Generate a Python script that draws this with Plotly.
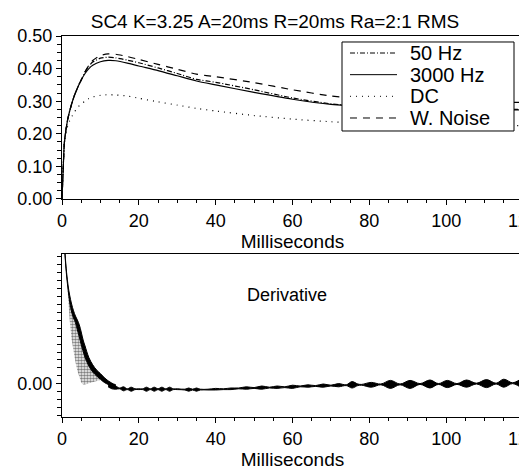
import plotly.graph_objects as go

# ---- top panel: RMS envelopes (milliseconds -> level) ----
ms = [0, 0.3, 0.6, 1, 1.5, 2, 3, 4, 5, 6, 7, 8, 10, 12, 14, 17, 20, 25, 30,
      35, 40, 50, 60, 70, 80, 90, 100, 110, 120]
hz50 = [0, 0.09, 0.17, 0.21, 0.245, 0.27, 0.31, 0.34, 0.365, 0.39, 0.408,
        0.42, 0.432, 0.435, 0.433, 0.426, 0.418, 0.402, 0.385, 0.367, 0.358,
        0.335, 0.31, 0.292, 0.283, 0.279, 0.277, 0.276, 0.275]
hz3000 = [0, 0.09, 0.17, 0.21, 0.245, 0.27, 0.31, 0.34, 0.365, 0.385, 0.40,
          0.41, 0.421, 0.425, 0.424, 0.417, 0.408, 0.394, 0.378, 0.362, 0.35,
          0.327, 0.306, 0.29, 0.282, 0.277, 0.275, 0.274, 0.273]
dc = [0, 0.09, 0.17, 0.20, 0.225, 0.24, 0.262, 0.28, 0.292, 0.30, 0.308,
      0.313, 0.318, 0.32, 0.319, 0.316, 0.309, 0.298, 0.288, 0.278, 0.27,
      0.256, 0.245, 0.237, 0.232, 0.229, 0.227, 0.226, 0.225]
wnoise = [0, 0.09, 0.17, 0.21, 0.245, 0.27, 0.31, 0.34, 0.365, 0.39, 0.41,
          0.425, 0.44, 0.445, 0.444, 0.437, 0.428, 0.413, 0.398, 0.383, 0.375,
          0.357, 0.335, 0.316, 0.305, 0.30, 0.298, 0.297, 0.296]
names = ["50 Hz", "3000 Hz", "DC", "W. Noise"]

# ---- bottom panel: derivative ----
band_ms = [0.6, 0.8, 1.2, 1.6, 2, 2.5, 3, 3.5, 4, 4.5, 5, 5.5, 6, 7, 8, 9,
           10, 11, 12, 13, 14]
band_hi = [0.036, 0.0325, 0.0278, 0.0245, 0.0222, 0.02, 0.0183, 0.017,
           0.016, 0.0148, 0.013, 0.011, 0.0095, 0.0066, 0.0048, 0.0035,
           0.0026, 0.0016, 0.0008, 0.0002, -0.0002]
band_lo = [0.0355, 0.032, 0.027, 0.0235, 0.0205, 0.018, 0.0165, 0.0153,
           0.0135, 0.0118, 0.0098, 0.0082, 0.0066, 0.0045, 0.003, 0.002,
           0.0012, 0.0004, -0.0001, -0.0004, -0.0008]
stip_ms = [1.2, 1.6, 2, 2.5, 3, 3.5, 4, 4.5, 5, 5.5, 6, 7, 8, 9, 10, 11]
stip_top = [0.027, 0.0235, 0.0205, 0.018, 0.0165, 0.0153, 0.0135, 0.0118,
            0.0098, 0.0082, 0.0066, 0.0045, 0.003, 0.002, 0.0012, 0.0004]
stip_bot = [0.027, 0.0205, 0.016, 0.0112, 0.0078, 0.0055, 0.0033, 0.0018,
            0.0004, -0.0001, -0.0001, 0.0002, 0.0005, 0.0008, 0.001, 0.0004]
tail_ms = [12, 13, 14, 15, 16, 17, 18, 19, 20, 21, 22, 23, 24, 25, 26, 27,
           28, 29, 30, 32, 33, 34, 35, 36, 38, 40, 42, 44, 46, 48, 50, 52,
           54, 56, 58, 60, 62, 64, 66, 68, 70, 72, 74, 75.5, 77, 78, 80.5, 83,
           85.5, 88, 90.6, 93.2, 95.8, 98, 100.3, 102.8, 105.3, 107.9, 110.5,
           113, 115, 117.3, 119.6, 120]
tail_mid = [-0.0002, -0.0006, -0.0009, -0.0011, -0.0012, -0.0013, -0.0013,
            -0.0013, -0.0013, -0.0013, -0.0013, -0.0013, -0.0013, -0.0013,
            -0.0013, -0.0013, -0.0013, -0.0013, -0.0013, -0.0014, -0.0014,
            -0.0014, -0.0014, -0.0014, -0.0014, -0.0013, -0.0013, -0.0012,
            -0.0011, -0.001, -0.001, -0.0009, -0.0009, -0.0008, -0.0008,
            -0.0007, -0.0006, -0.0005, -0.0005, -0.0004, -0.0004, -0.0003,
            -0.0003, -0.0002, -0.0002, -0.0002, -0.0002, -0.0001, -0.0001,
            -0.0001, -0.0001, 0.0, 0.0, 0.0, 0.0, 0.0, 0.0001, 0.0001, 0.0001,
            0.0001, 0.0002, 0.0002, 0.0002, 0.0002]
tail_amp = [0.0005, 0.0006, 0.0004, 0.0001, 0.0005, 0.0001, 0.0005, 0.0001,
            0.0001, 0.0001, 0.0005, 0.0001, 0.0005, 0.0001, 0.0005, 0.0001,
            0.0005, 0.0001, 0.0001, 0.0001, 0.0004, 0.0001, 0.0004, 0.0001,
            0.0001, 0.0002, 0.0001, 0.0002, 0.0001, 0.0003, 0.0001, 0.0004,
            0.0001, 0.0003, 0.0001, 0.0004, 0.0001, 0.0003, 0.0001, 0.0004,
            0.0001, 0.0004, 0.0001, 0.0008, 0.0002, 0.0001, 0.0006, 0.0001,
            0.001, 0.0001, 0.001, 0.0001, 0.001, 0.0001, 0.0009, 0.0001,
            0.0009, 0.0001, 0.001, 0.0001, 0.001, 0.0001, 0.001, 0.0009]

FONT = "Liberation Sans, Arial, Helvetica, sans-serif"

fig = go.Figure()

dashes = ["5px,2px,1px,2px", "solid", "1px,5px", "7px,6px"]
for name, vals, dash in zip(names, [hz50, hz3000, dc, wnoise], dashes):
    fig.add_trace(go.Scatter(x=ms, y=vals, name=name, mode="lines",
                             line=dict(color="black", width=1.2, dash=dash,
                                       shape="spline", smoothing=0.6),
                             showlegend=False, xaxis="x", yaxis="y"))

# stippled region (fast oscillation of one curve)
fig.add_trace(go.Scatter(x=stip_ms, y=stip_top, mode="lines",
                         line=dict(width=0), showlegend=False,
                         xaxis="x2", yaxis="y2"))
fig.add_trace(go.Scatter(x=stip_ms, y=stip_bot, mode="lines",
                         line=dict(width=0), fill="tonexty",
                         fillcolor="white",
                         fillpattern=dict(shape=".", fgcolor="black",
                                          bgcolor="white", size=3,
                                          solidity=0.6),
                         showlegend=False, xaxis="x2", yaxis="y2"))
# main band
fig.add_trace(go.Scatter(x=band_ms, y=band_lo, mode="lines",
                         line=dict(color="black", width=1, shape="spline"),
                         showlegend=False, xaxis="x2", yaxis="y2"))
fig.add_trace(go.Scatter(x=band_ms, y=band_hi, mode="lines",
                         line=dict(color="black", width=1, shape="spline"),
                         fill="tonexty", fillcolor="black",
                         showlegend=False, xaxis="x2", yaxis="y2"))
# ripple
tail_lo = [m - a for m, a in zip(tail_mid, tail_amp)]
tail_hi = [m + a for m, a in zip(tail_mid, tail_amp)]
fig.add_trace(go.Scatter(x=tail_ms, y=tail_lo, mode="lines",
                         line=dict(color="black", width=1, shape="spline"),
                         showlegend=False, xaxis="x2", yaxis="y2"))
fig.add_trace(go.Scatter(x=tail_ms, y=tail_hi, mode="lines",
                         line=dict(color="black", width=1, shape="spline"),
                         fill="tonexty", fillcolor="black",
                         showlegend=False, xaxis="x2", yaxis="y2"))

# hand-drawn legend box (tight line spacing like the original)
shapes = [dict(type="rect", xref="x domain", yref="y domain",
               x0=0.6074, x1=0.9805, y0=0.4172, y1=0.9632,
               line=dict(color="black", width=1), fillcolor="white",
               layer="above")]
annotations = []
for i, (name, dash) in enumerate(zip(names, dashes)):
    yy = 0.8957 - i * 0.1329
    shapes.append(dict(type="line", xref="x domain", yref="y domain",
                       x0=0.6247, x1=0.7267, y0=yy, y1=yy, layer="above",
                       line=dict(color="black", width=1, dash=dash)))
    annotations.append(dict(text=name, xref="x domain", yref="y domain",
                            x=0.7505, y=yy, xanchor="left", yanchor="middle",
                            showarrow=False, font=dict(size=20)))
annotations.append(dict(text="Derivative", xref="x2 domain",
                        yref="y2 domain", x=(287 - 62) / 461,
                        y=(417 - 283) / 163, showarrow=False,
                        font=dict(size=18)))

xax = dict(range=[0, 120], dtick=20, tick0=0, ticks="outside", ticklen=5,
           tickcolor="black", showline=True, linecolor="black", linewidth=1,
           mirror=True, showgrid=False, zeroline=False, automargin=False,
           ticklabeloverflow="allow",
           minor=dict(dtick=5, tick0=0, ticks="outside", ticklen=3,
                      tickcolor="black"),
           title=dict(text="Milliseconds", standoff=4, font=dict(size=19)),
           tickfont=dict(size=18))

fig.update_layout(
    width=527, height=462,
    margin=dict(l=54, r=12, t=28, b=53),
    paper_bgcolor="white", plot_bgcolor="white",
    font=dict(family=FONT, size=18, color="black"),
    title=dict(text="SC4 K=3.25 A=20ms R=20ms Ra=2:1 RMS", x=267 / 527,
               xanchor="center", y=1 - 13 / 462, yanchor="middle",
               font=dict(size=19)),
    xaxis={**xax, "domain": [0, 1], "anchor": "y"},
    xaxis2={**xax, "domain": [0, 1], "anchor": "y2"},
    yaxis=dict(domain=[0.5722, 1], range=[0, 0.5], dtick=0.1, tick0=0,
               tickformat=".2f", ticks="outside", ticklen=5,
               tickcolor="black", showline=True, linecolor="black",
               mirror=True, showgrid=False, zeroline=False, automargin=False,
               minor=dict(dtick=0.025, tick0=0, ticks="outside", ticklen=4,
                          tickcolor="black"),
               anchor="x"),
    yaxis2=dict(domain=[0, 0.4278], range=[-0.00825, 0.0325],
                tickmode="array", tickvals=[0], ticktext=["0.00"],
                ticks="outside", ticklen=5, tickcolor="black",
                showline=True, linecolor="black", mirror=True,
                showgrid=False, zeroline=False, automargin=False,
                minor=dict(tickmode="linear", dtick=0.002, tick0=0,
                           ticks="outside", ticklen=4, tickcolor="black"),
                anchor="x2"),
    shapes=shapes,
    annotations=annotations,
    showlegend=False,
)

fig.write_html("out.html")
